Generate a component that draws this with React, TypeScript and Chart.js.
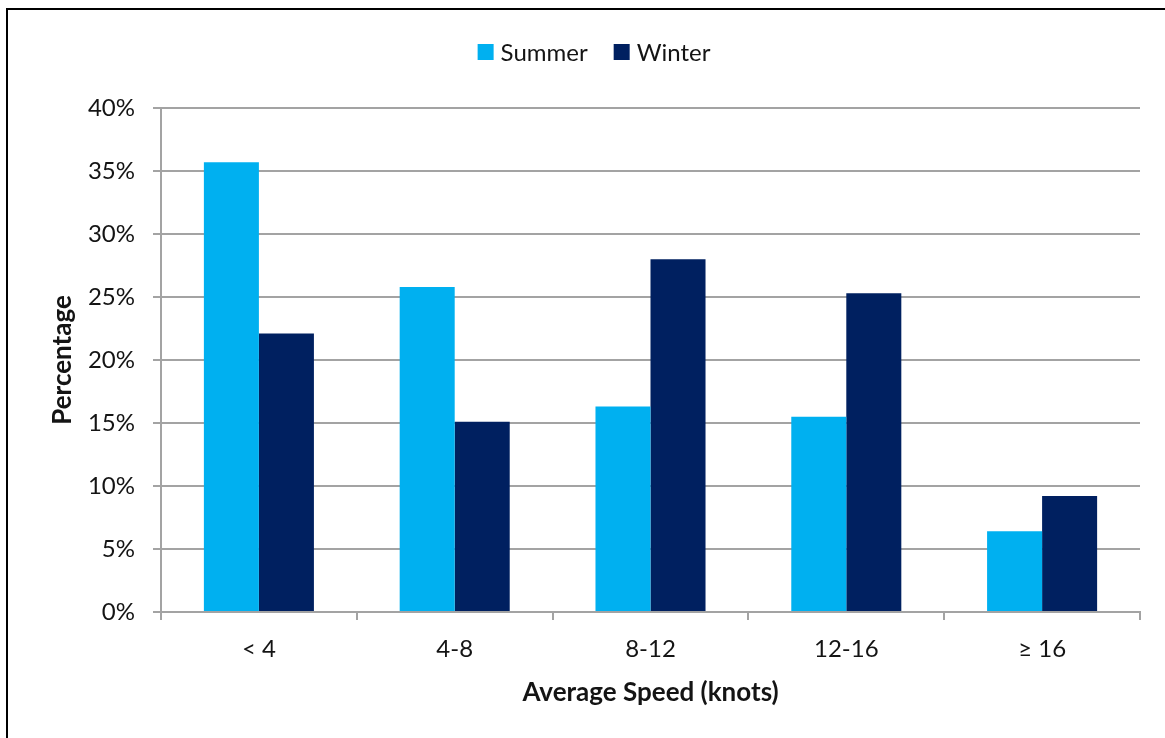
import React, { useEffect, useRef } from "react";
import { Chart, registerables } from "chart.js";

Chart.register(...registerables);

const categories = ["< 4", "4-8", "8-12", "12-16", "\u2265 16"];
const summerValues = [35.7, 25.8, 16.3, 15.5, 6.4];
const winterValues = [22.1, 15.1, 28.0, 25.3, 9.2];
const seriesNames = ["Summer", "Winter"];
const seriesColors = ["#00B0F0", "#002060"];
const yTickStep = 5;
const yMax = 40;

const FONT = "Lato, 'Open Sans', sans-serif";
const TEXT = "#141414";
const GRID = "#a3a3a3";

const legendPlugin = {
  id: "customLegend",
  afterDraw(chart: any) {
    const ctx = chart.ctx;
    const ds = chart.data.datasets;
    ctx.save();
    ctx.font = `24px ${FONT}`;
    ctx.textBaseline = "middle";
    const box = 16;
    const gap = 7;
    const itemGap = 26;
    const widths = ds.map((d: any) => box + gap + ctx.measureText(d.label).width);
    const total = widths.reduce((a: number, b: number) => a + b, 0) + itemGap * (ds.length - 1);
    let x = 594 - total / 2;
    const cy = 52;
    ds.forEach((d: any, i: number) => {
      ctx.fillStyle = d.backgroundColor;
      ctx.fillRect(x, cy - box / 2, box, box);
      ctx.fillStyle = TEXT;
      ctx.textAlign = "left";
      ctx.fillText(d.label, x + box + gap, cy + 1);
      x += widths[i] + itemGap;
    });
    ctx.restore();
  },
};

export default function App() {
  const ref = useRef<HTMLCanvasElement | null>(null);

  useEffect(() => {
    if (!ref.current) return;
    const chart = new Chart(ref.current, {
      type: "bar",
      data: {
        labels: categories,
        datasets: [
          { label: seriesNames[0], data: summerValues, backgroundColor: seriesColors[0] },
          { label: seriesNames[1], data: winterValues, backgroundColor: seriesColors[1] },
        ],
      },
      options: {
        animation: false,
        responsive: false,
        maintainAspectRatio: false,
        layout: { padding: { left: 40, right: 25, top: 108, bottom: 30 } },
        datasets: { bar: { categoryPercentage: 0.562, barPercentage: 1 } },
        plugins: {
          legend: { display: false },
          tooltip: { enabled: false },
        },
        scales: {
          x: {
            afterFit: (s: any) => {
              s.height = 96;
            },
            grid: {
              offset: true,
              drawOnChartArea: false,
              drawTicks: true,
              tickLength: 8,
              color: GRID,
              lineWidth: 2,
            },
            border: { color: GRID, width: 2 },
            ticks: {
              color: TEXT,
              font: { family: FONT, size: 24 },
              padding: 15,
              maxRotation: 0,
            },
            title: {
              display: true,
              text: "Average Speed (knots)",
              color: TEXT,
              font: { family: FONT, size: 26, weight: "bold" },
              padding: { top: 0, bottom: 0 },
            },
          },
          y: {
            min: 0,
            max: yMax,
            afterFit: (s: any) => {
              s.width = 121;
            },
            grid: {
              drawTicks: true,
              tickLength: 8,
              color: GRID,
              lineWidth: 2,
            },
            border: { color: GRID, width: 2 },
            ticks: {
              stepSize: yTickStep,
              color: TEXT,
              font: { family: FONT, size: 24 },
              padding: 18,
              callback: (v: any) => `${v}%`,
            },
            title: {
              display: true,
              text: "Percentage",
              color: TEXT,
              font: { family: FONT, size: 26, weight: "bold" },
              padding: { top: 7, bottom: 0 },
            },
          },
        },
      },
      plugins: [legendPlugin],
    });
    return () => chart.destroy();
  }, []);

  return (
    <div
      style={{
        position: "fixed",
        left: 0,
        top: 0,
        width: 1165,
        height: 738,
        overflow: "hidden",
        background: "#fff",
      }}
    >
      <div
        style={{
          position: "absolute",
          left: 6,
          top: 8,
          width: 1300,
          height: 900,
          borderLeft: "2px solid #000",
          borderTop: "2px solid #000",
        }}
      />
      <canvas
        ref={ref}
        width={1165}
        height={738}
        style={{ position: "absolute", left: 0, top: 0, width: 1165, height: 738 }}
      />
    </div>
  );
}
